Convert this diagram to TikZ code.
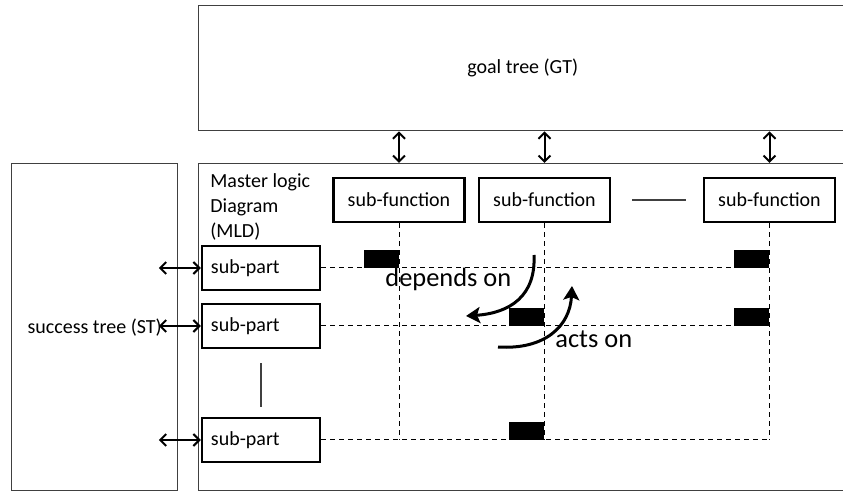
\documentclass[tikz,border=0pt]{standalone}
\usepackage{fontspec}
\setmainfont{Carlito}
\usetikzlibrary{arrows.meta,positioning}

\begin{document}
\begin{tikzpicture}[x=0.5pt, y=-0.5pt,
    font=\fontsize{10}{12.5}\selectfont,
    bigbox/.style={draw=black!75, line width=0.7pt, rectangle, inner sep=0pt, anchor=north west},
    subfunc/.style={draw, line width=1.2pt, rectangle, minimum width=65.5pt, minimum height=22pt, inner sep=0pt},
    subpart/.style={draw, line width=1.2pt, rectangle, minimum height=22pt, text width=50pt, align=left, inner xsep=4.5pt, inner ysep=0pt},
    link/.style={line width=1pt, {Straight Barb[length=3pt,width=6pt]}-{Straight Barb[length=3pt,width=6pt]}},
    grid/.style={line width=0.5pt, dash pattern=on 2.5pt off 2pt},
    block/.style={fill=black, inner sep=0pt, minimum width=17.5pt, minimum height=9pt, anchor=south east},
    curvearrow/.style={line width=1.5pt, -{Stealth[length=7pt,width=8pt,inset=1.5pt]}},
    bigtext/.style={font=\fontsize{13.2}{15}\selectfont, inner sep=0pt, anchor=base west}
]
    \clip (0,0) rectangle (843,492);

    % outer trees
    \node[bigbox, minimum width=324pt, minimum height=62.5pt] (gt) at (198,5) {goal tree (GT)};
    \node[bigbox, minimum width=83pt, minimum height=163.5pt] (st) at (11,163) {success tree (ST)};
    \node[bigbox, minimum width=330pt, minimum height=163.5pt] (mld) at (198,163) {};
    \node[inner sep=0pt, anchor=north west, align=left] (mldlabel) at (210,173) {Master logic\\Diagram\\(MLD)};

    % sub-functions and sub-parts
    \node[subfunc] (sf1) at (399,200) {sub-function};
    \node[subfunc] (sf2) at (544.5,200) {sub-function};
    \node[subfunc] (sf3) at (769.5,200) {sub-function};
    \node[subpart] (sp1) at (261,268) {sub-part};
    \node[subpart] (sp2) at (261,326) {sub-part};
    \node[subpart] (sp3) at (261,440) {sub-part};

    \draw[black!75, line width=0.7pt] ([xshift=10.5pt]sf2.east) -- ([xshift=-8.5pt]sf3.west);
    \draw[black!75, line width=0.7pt] ([yshift=-7pt]sp2.south) -- ([yshift=5pt]sp3.north);

    \foreach \f in {sf1,sf2,sf3}
        \draw[link] (\f |- gt.south) -- (\f |- mld.north);
    \foreach \p in {sp1,sp2,sp3}
        \draw[link] (\p.west) -- ++(-42,0);

    % dependency grid
    \foreach \p in {sp1,sp2,sp3}
        \draw[grid] (\p.east) -- (\p.east -| sf3.south);
    \foreach \f in {sf1,sf2,sf3}
        \draw[grid] (\f.south) -- (\f.south |- sp3.east);

    \node[block] (b11) at (sf1.south |- sp1.east) {};
    \node[block] (b13) at (sf3.south |- sp1.east) {};
    \node[block] (b22) at (sf2.south |- sp2.east) {};
    \node[block] (b23) at (sf3.south |- sp2.east) {};
    \node[block] (b32) at (sf2.south |- sp3.east) {};

    \coordinate (dep1) at (534,255);
    \coordinate (dep2) at (466,316);
    \coordinate (act1) at (498,347);
    \coordinate (act2) at (572,286);
    \draw[curvearrow] (dep1) .. controls (536,296) and (510,313) .. (dep2);
    \draw[curvearrow] (act1) .. controls (545,350) and (570,326) .. (act2);
    \node[bigtext] (dependson) at (385,287) {depends on};
    \node[bigtext] (actson) at (555,348) {acts on};
\end{tikzpicture}
\end{document}
